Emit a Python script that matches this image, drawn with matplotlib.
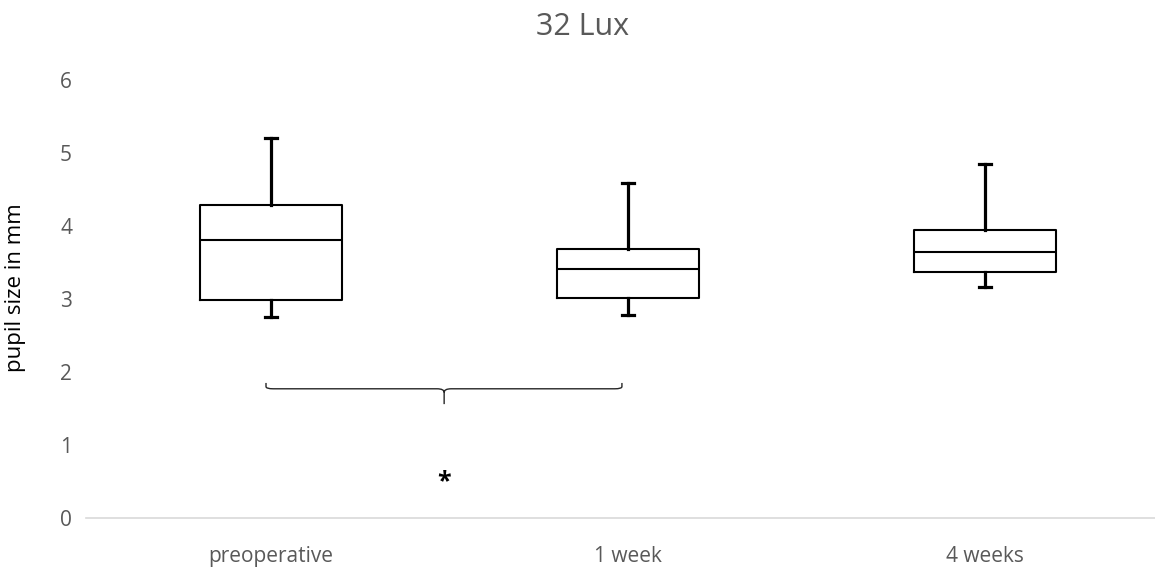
import numpy as np
import matplotlib
matplotlib.use('Agg')
import matplotlib.pyplot as plt
from matplotlib.path import Path
from matplotlib.patches import PathPatch

plt.rcParams['font.family'] = ['Open Sans', 'DejaVu Sans']

# values (mm)
groups = ['preoperative', '1 week', '4 weeks']
wmin = [2.75, 2.78, 3.16]
q1 = [2.99, 3.01, 3.37]
median = [3.81, 3.41, 3.64]
q3 = [4.29, 3.68, 3.95]
wmax = [5.20, 4.59, 4.85]

fig = plt.figure(figsize=(11.55, 5.69), dpi=100)
ax = fig.add_axes([86 / 1155, 1 - 518 / 569, 1 - 86 / 1155, (518 - 80) / 569])

stats = []
for i, g in enumerate(groups):
    stats.append(dict(label=g, whislo=wmin[i], q1=q1[i], med=median[i],
                      q3=q3[i], whishi=wmax[i]))

ax.bxp(stats, positions=[1, 2, 3], widths=0.40, showfliers=False,
       boxprops=dict(color='black', linewidth=1.5),
       medianprops=dict(color='black', linewidth=1.5),
       whiskerprops=dict(color='black', linewidth=2.3),
       capprops=dict(color='black', linewidth=2.3), capwidths=0.035)

# brace between preoperative and 1 week
x0, x1, xm = 0.986, 1.983, 1.485
yt, yb, ytip = 1.85, 1.77, 1.56
r = 0.02
verts = [(x0, yt), (x0, yb + 0.03), (x0, yb), (x0 + r, yb),
         (xm - r, yb), (xm, yb), (xm, yb - 0.05), (xm, ytip)]
codes = [Path.MOVETO, Path.LINETO, Path.CURVE3, Path.CURVE3,
         Path.LINETO, Path.CURVE3, Path.CURVE3, Path.LINETO]
verts += [(xm, yb - 0.05), (xm, yb), (xm + r, yb),
          (x1 - r, yb), (x1, yb), (x1, yb + 0.03), (x1, yt)]
codes += [Path.MOVETO, Path.CURVE3, Path.CURVE3,
          Path.LINETO, Path.CURVE3, Path.CURVE3, Path.LINETO]
ax.add_patch(PathPatch(Path(verts, codes), fill=False, edgecolor='#262626', linewidth=1.0))
ax.text(xm, 0.50, '*', ha='center', va='center', fontsize=18,
        fontweight='bold', color='black')

ax.set_xlim(1 - (271 - 86) / 357, 1 + (1155 - 271) / 357)
ax.set_ylim(0, 6)
ax.set_yticks(range(0, 7))
ax.set_xticks([1, 2, 3])
ax.set_xticklabels(groups)
ax.tick_params(axis='both', length=0, labelsize=15, labelcolor='#595959')
ax.tick_params(axis='y', pad=10)
ax.tick_params(axis='x', pad=20)
for s in ['top', 'right', 'left']:
    ax.spines[s].set_visible(False)
ax.spines['bottom'].set_color('#d9d9d9')
ax.spines['bottom'].set_linewidth(1.2)

fig.text(16 / 1155, 1 - 288 / 569, 'pupil size in mm', rotation=90,
         ha='center', va='center', fontsize=16, color='black')
fig.text(583 / 1155, 1 - 27 / 569, '32 Lux', ha='center', va='center',
         fontsize=22, color='#595959')

fig.savefig('out.png', dpi=100)
